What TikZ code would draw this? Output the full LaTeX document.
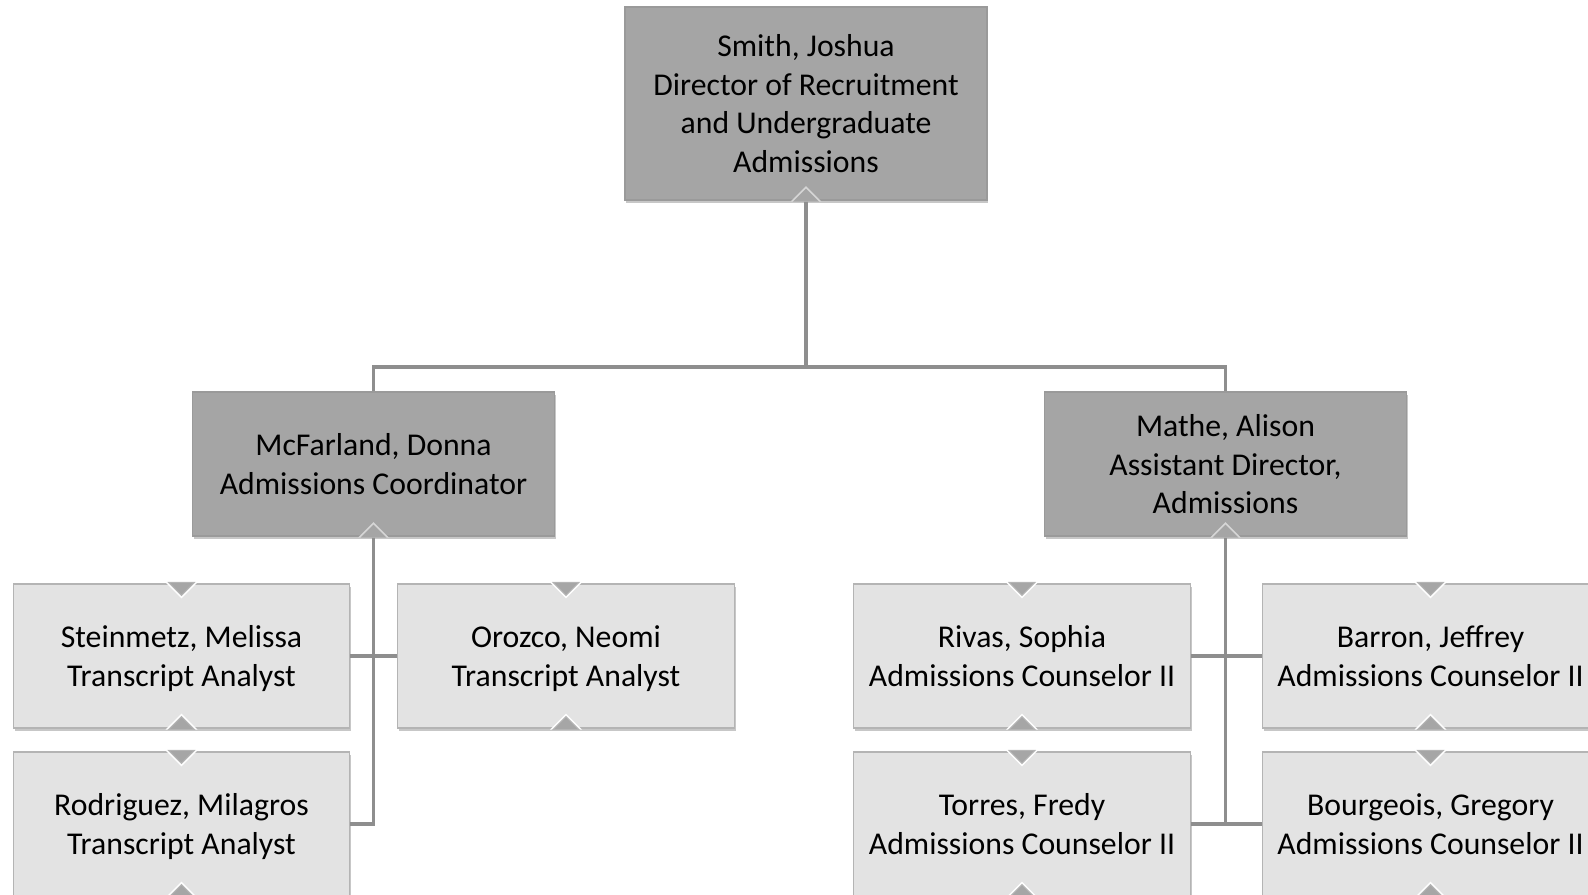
\documentclass[tikz,border=0pt]{standalone}
\usepackage{fontspec}
\setmainfont{Carlito}
\usetikzlibrary{shadows}
\definecolor{darkfill}{HTML}{A5A5A5}
\definecolor{darkline}{HTML}{9A9A9A}
\definecolor{lightfill}{HTML}{E3E3E3}
\definecolor{lightline}{HTML}{B4B4B4}
\definecolor{chevfill}{HTML}{A6A6A6}
\definecolor{connline}{HTML}{8E8E8E}
\newcommand\lstr{\rule[-6.25pt]{0pt}{29pt}}
\tikzset{
  box/.style={rectangle, inner sep=0pt, align=center, text=black,
    font=\fontsize{23.8pt}{29pt}\selectfont, line width=0.9pt,
    drop shadow={shadow xshift=1pt, shadow yshift=-2pt, opacity=0.22, fill=black}},
  darkbox/.style={box, fill=darkfill, draw=darkline, minimum width=271.5pt},
  lightbox/.style={box, fill=lightfill, draw=lightline, minimum width=252.5pt, minimum height=108pt},
  conn/.style={draw=connline, line width=2.7pt},
  chevdn/.pic={
    \fill[white] (-16,-1) -- (0,15) -- (16,-1) -- cycle;
    \filldraw[fill=chevfill, draw=lightline, line width=0.7pt] (-13,-1) -- (0,12) -- (13,-1) -- cycle;
  },
  chevup/.pic={
    \fill[white] (-16,1) -- (0,-15) -- (16,1) -- cycle;
    \filldraw[fill=chevfill, draw=lightline, line width=0.7pt] (-13,1) -- (0,-12) -- (13,1) -- cycle;
  },
  chevupdark/.pic={
    \fill[white!55!darkfill] (-15.5,1) -- (0,-14.5) -- (15.5,1) -- cycle;
    \fill[darkfill] (-13,1) -- (0,-12) -- (13,1) -- cycle;
  }
}
\begin{document}
\begin{tikzpicture}[x=0.75pt,y=-0.75pt]
\useasboundingbox (0,0) rectangle (1588,895);
\clip (0,0) rectangle (1588,895);

\coordinate (hub) at (806,367);
\coordinate (rj) at (1225.5,824);

% boxes
\node[darkbox, minimum height=144.75pt] (smith) at (806,103.5) {Smith, Joshua\lstr\\Director of Recruitment\lstr\\and Undergraduate\lstr\\Admissions\lstr};
\node[darkbox, minimum height=108pt] (mcf) at (373.5,464) {McFarland, Donna\lstr\\Admissions Coordinator\lstr};
\node[darkbox, minimum height=108pt] (mathe) at (1225.5,464) {Mathe, Alison\lstr\\Assistant Director,\lstr\\Admissions\lstr};

\node[lightbox] (stein) at (181.5,656) {Steinmetz, Melissa\lstr\\Transcript Analyst\lstr};
\node[lightbox] (oroz) at (566,656) {Orozco, Neomi\lstr\\Transcript Analyst\lstr};
\node[lightbox] (rodr) at (181.5,824) {Rodriguez, Milagros\lstr\\Transcript Analyst\lstr};
\node[lightbox] (rivas) at (1022,656) {Rivas, Sophia\lstr\\Admissions Counselor II\lstr};
\node[lightbox] (torres) at (1022,824) {Torres, Fredy\lstr\\Admissions Counselor II\lstr};
\node[lightbox] (barron) at (1430.5,656) {Barron, Jeffrey\lstr\\Admissions Counselor II\lstr};
\node[lightbox] (bourg) at (1430.5,824) {Bourgeois, Gregory\lstr\\Admissions Counselor II\lstr};

% connectors
\draw[conn] (smith.south) -- (hub);
\draw[conn] (mcf.north) |- (hub) -| (mathe.north);
\draw[conn] (mcf.south) |- (rodr.east);
\draw[conn] (stein.east) -- (oroz.west);
\draw[conn] (mathe.south) -- (rj);
\draw[conn] (rivas.east) -- (barron.west);
\draw[conn] (torres.east) -- (bourg.west);

% chevrons
\pic at (smith.south) {chevupdark};
\pic at (mcf.south) {chevupdark};
\pic at (mathe.south) {chevupdark};
\foreach \n in {stein,oroz,rodr,rivas,torres,barron,bourg}{
  \pic at (\n.north) {chevdn};
  \pic at (\n.south) {chevup};
}
\end{tikzpicture}
\end{document}
